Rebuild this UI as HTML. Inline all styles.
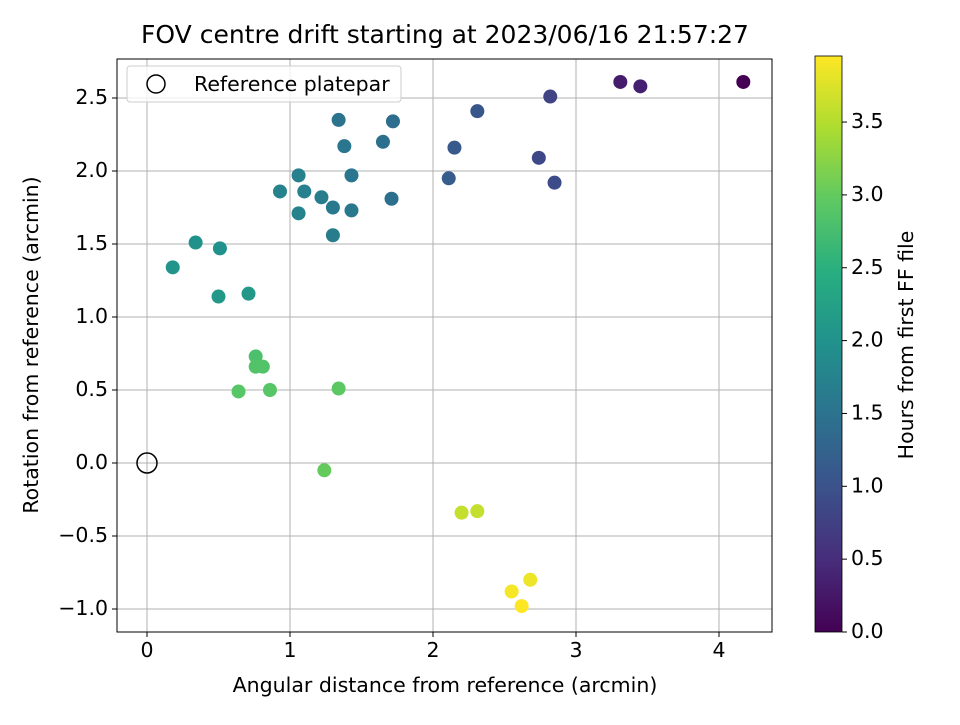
<!DOCTYPE html>
<html><head><meta charset="utf-8"><style>
body{margin:0;background:#fff}
svg text{font-family:"DejaVu Sans","Liberation Sans",sans-serif;fill:#000}
</style></head><body>
<svg width="960" height="720" viewBox="0 0 960 720" xmlns="http://www.w3.org/2000/svg">
<defs><linearGradient id="vir" x1="0" y1="1" x2="0" y2="0">
<stop offset="0" stop-color="#440154"/><stop offset="0.125" stop-color="#472d7b"/><stop offset="0.25" stop-color="#3b528b"/><stop offset="0.375" stop-color="#2c728e"/><stop offset="0.5" stop-color="#21918c"/><stop offset="0.625" stop-color="#28ae80"/><stop offset="0.75" stop-color="#5ec962"/><stop offset="0.875" stop-color="#addc30"/><stop offset="1" stop-color="#fde725"/>
</linearGradient></defs>
<text x="445" y="43" font-size="25" text-anchor="middle">FOV centre drift starting at 2023/06/16 21:57:27</text>
<g id="grid"></g>
<g id="pts"></g>
<rect x="117" y="59" width="655" height="573" fill="none" stroke="#000" stroke-width="1"/>
<g id="ticks"></g>
<text x="445" y="692" font-size="20.5" text-anchor="middle">Angular distance from reference (arcmin)</text>
<text transform="translate(38,345) rotate(-90)" font-size="20.5" text-anchor="middle">Rotation from reference (arcmin)</text>
<g>
<rect x="127" y="66" width="274" height="36" rx="3" fill="#fff" fill-opacity="0.8" stroke="#ccc"/>
<circle cx="156" cy="84" r="9" fill="none" stroke="#000" stroke-width="1.5"/>
<text x="194" y="91" font-size="20.5">Reference platepar</text>
</g>
<rect x="815" y="56" width="27" height="576" fill="url(#vir)" stroke="#000" stroke-width="0.8"/>
<g id="cbt"></g>
<text transform="translate(913,345) rotate(-90)" font-size="20.5" text-anchor="middle">Hours from first FF file</text>
</svg>
<script>
const xs=[4.17,3.31,3.45,2.82,2.74,2.85,2.31,2.15,2.11,1.72,1.65,1.71,1.34,1.38,1.43,1.43,1.30,1.22,1.30,1.06,1.10,1.06,0.93,0.34,0.51,0.18,0.50,0.71,0.76,0.76,0.81,0.64,0.86,1.34,1.24,2.20,2.31,2.68,2.55,2.62];
const ys=[2.61,2.61,2.58,2.51,2.09,1.92,2.41,2.16,1.95,2.34,2.20,1.81,2.35,2.17,1.97,1.73,1.75,1.82,1.56,1.97,1.86,1.71,1.86,1.51,1.47,1.34,1.14,1.16,0.73,0.66,0.66,0.49,0.50,0.51,-0.05,-0.34,-0.33,-0.80,-0.88,-0.98];
const hours=[0,0.3,0.35,0.8,0.85,0.9,1.05,1.1,1.15,1.4,1.45,1.45,1.5,1.55,1.55,1.6,1.6,1.65,1.65,1.7,1.7,1.75,1.75,2.0,2.0,2.05,2.1,2.1,2.8,2.85,2.85,2.9,2.9,2.95,3.0,3.6,3.6,3.85,3.9,3.95];
const xTicks=[0,1,2,3,4];
const yTicks=[-1.0,-0.5,0.0,0.5,1.0,1.5,2.0,2.5];
const cTicks=[0,0.5,1,1.5,2,2.5,3,3.5];
const NS="http://www.w3.org/2000/svg";
const X=v=>147+v*143, Y=v=>463-v*146, C=v=>632-v*145.7;
const stops=[[68,1,84],[71,45,123],[59,82,139],[44,114,142],[33,145,140],[40,174,128],[94,201,98],[173,220,48],[253,231,37]];
function vir(t){t=Math.max(0,Math.min(1,t))*8;const i=Math.min(7,Math.floor(t)),f=t-i;const a=stops[i],b=stops[i+1];return `rgb(${a.map((v,k)=>Math.round(v+(b[k]-v)*f)).join(',')})`;}
function mk(tag,at,parent){const e=document.createElementNS(NS,tag);for(const k in at)e.setAttribute(k,at[k]);parent.appendChild(e);return e;}
const g=document.getElementById('grid'),t=document.getElementById('ticks'),p=document.getElementById('pts'),cb=document.getElementById('cbt');
xTicks.forEach(v=>{
 const l=mk('line',{x1:X(v),x2:X(v),y1:59,y2:632,stroke:'#b0b0b0','stroke-width':1},g);
 
 
 mk('line',{x1:X(v),x2:X(v),y1:632,y2:637,stroke:'#000'},t);
 const tx=mk('text',{x:X(v),y:657,'font-size':20.5,'text-anchor':'middle'},t);tx.textContent=v;
 
 
});
yTicks.forEach(v=>{
 const l=mk('line',{x1:117,x2:772,y1:Y(v),y2:Y(v),stroke:'#b0b0b0','stroke-width':1},g);
 
 
 mk('line',{x1:112,x2:117,y1:Y(v),y2:Y(v),stroke:'#000'},t);
 const tx=mk('text',{x:108,y:Y(v)+6,'font-size':20.5,'text-anchor':'end'},t);tx.textContent=v.toFixed(1).replace('-','\u2212');
 
 
});
cTicks.forEach(v=>{
 mk('line',{x1:842,x2:847,y1:C(v),y2:C(v),stroke:'#000'},cb);
 const tx=mk('text',{x:851,y:C(v)+6,'font-size':20.5},cb);tx.textContent=v.toFixed(1);
 
 
});
xs.forEach((v,i)=>{
 const c=mk('circle',{cx:X(v),cy:Y(ys[i]),r:7,fill:vir(hours[i]/3.95)},p);
 
 
});
const r=mk('circle',{cx:X(0),cy:Y(0),r:10,fill:'none',stroke:'#000','stroke-width':1.5},p);


</script>
</body></html>
